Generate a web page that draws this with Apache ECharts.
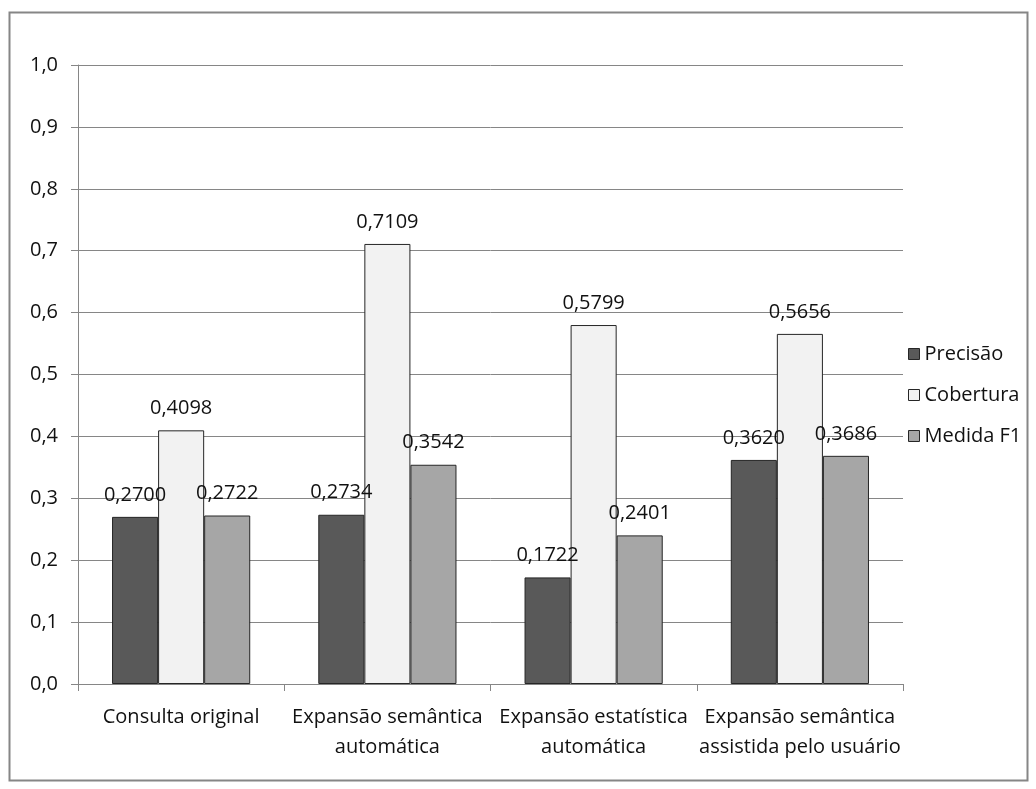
<!DOCTYPE html>
<html>
<head>
<meta charset="utf-8">
<script src="https://cdn.jsdelivr.net/npm/echarts@6/dist/echarts.min.js"></script>
<style>
html, body { margin: 0; padding: 0; background: #fff; }
#chart { width: 1036px; height: 789px; }
</style>
</head>
<body>
<div id="chart"></div>
<script>
var categories = ['Consulta original', 'Expansão semântica\nautomática', 'Expansão estatística\nautomática', 'Expansão semântica\nassistida pelo usuário'];
var seriesNames = ['Precisão', 'Cobertura', 'Medida F1'];
var precisao = [0.2700, 0.2734, 0.1722, 0.3620];
var cobertura = [0.4098, 0.7109, 0.5799, 0.5656];
var medidaF1 = [0.2722, 0.3542, 0.2401, 0.3686];
var yTicks = [0, 0.1, 0.2, 0.3, 0.4, 0.5, 0.6, 0.7, 0.8, 0.9, 1.0];

var colors = ['#595959', '#f2f2f2', '#a6a6a6'];
var font = 'Open Sans';
var txtColor = '#111';

function fmt(v, d) {
	return v.toFixed(d).replace('.', ',');
}

function makeSeries(name, data, color) {
	return {
		name: name,
		type: 'bar',
		data: data,
		barGap: '0%',
		barCategoryGap: '33%',
		itemStyle: { color: color, borderColor: '#262626', borderWidth: 1 },
		label: {
			show: true,
			position: 'top',
			distance: 12,
			color: txtColor,
			fontFamily: font,
			fontSize: 20,
			formatter: function (p) { return fmt(p.value, 4); }
		}
	};
}

var chart = echarts.init(document.getElementById('chart'));
chart.setOption({
	animation: false,
	color: colors,
	graphic: [{
		type: 'rect',
		shape: { x: 9.5, y: 12.5, width: 1018, height: 768 },
		style: { fill: 'none', stroke: '#868686', lineWidth: 2 }
	}],
	grid: { left: 78, right: 133, top: 65, bottom: 105 },
	legend: {
		orient: 'vertical',
		left: 903,
		top: 339,
		itemWidth: 11,
		itemHeight: 11,
		itemGap: 21,
		icon: 'rect',
		data: seriesNames,
		itemStyle: { borderColor: '#262626', borderWidth: 1 },
		textStyle: { fontFamily: font, fontSize: 20, color: txtColor }
	},
	xAxis: {
		type: 'category',
		data: categories,
		axisLine: { lineStyle: { color: '#868686', width: 1 } },
		axisTick: { show: true, length: 7, lineStyle: { color: '#868686' } },
		axisLabel: { fontFamily: font, fontSize: 20, color: txtColor, margin: 18, lineHeight: 30, interval: 0 }
	},
	yAxis: {
		type: 'value',
		min: 0,
		max: 1,
		interval: 0.1,
		axisLine: { show: true, lineStyle: { color: '#868686' } },
		axisTick: { show: true, length: 7, lineStyle: { color: '#868686' } },
		splitLine: { lineStyle: { color: '#868686' } },
		axisLabel: {
			fontFamily: font, fontSize: 20, color: txtColor, margin: 20,
			formatter: function (v) { return fmt(v, 1); }
		}
	},
	series: [
		makeSeries(seriesNames[0], precisao, colors[0]),
		makeSeries(seriesNames[1], cobertura, colors[1]),
		makeSeries(seriesNames[2], medidaF1, colors[2])
	]
});
</script>
</body>
</html>
